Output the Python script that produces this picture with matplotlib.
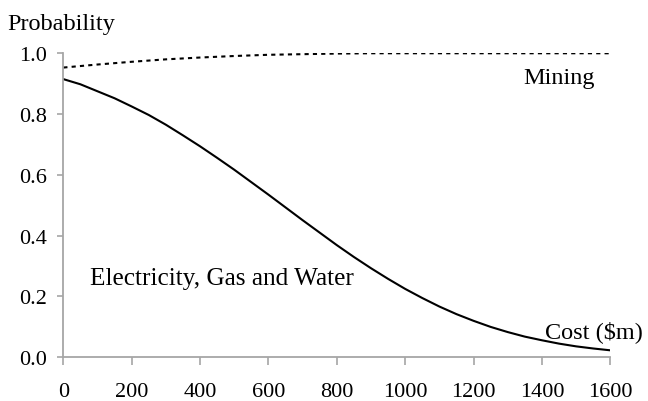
import matplotlib
matplotlib.use("Agg")
import matplotlib.pyplot as plt

# Cost grid ($m) and probability curves by industry
cost = [0, 50, 100, 150, 200, 250, 300, 350, 400, 450, 500, 550, 600, 650,
        700, 750, 800, 850, 900, 950, 1000, 1050, 1100, 1150, 1200, 1250,
        1300, 1350, 1400, 1450, 1500, 1550, 1600]
electricity = [0.915, 0.898, 0.875, 0.852, 0.825, 0.797, 0.765, 0.730, 0.694,
               0.656, 0.617, 0.576, 0.535, 0.493, 0.451, 0.410, 0.369, 0.330,
               0.293, 0.258, 0.225, 0.195, 0.167, 0.142, 0.120, 0.100, 0.083,
               0.068, 0.056, 0.045, 0.036, 0.029, 0.023]
mining_cost = [0, 100, 200, 300, 400, 500, 600, 700, 800, 900, 1000, 1100,
               1200, 1300, 1400, 1500, 1600]
mining = [0.953, 0.963, 0.972, 0.980, 0.986, 0.991, 0.995, 0.997, 0.999,
          1.0, 1.0, 1.0, 1.0, 1.0, 1.0, 1.0, 1.0]

xticks = [0, 200, 400, 600, 800, 1000, 1200, 1400, 1600]
yticks = [0.0, 0.2, 0.4, 0.6, 0.8, 1.0]

plt.rcParams["font.family"] = ["Liberation Serif", "DejaVu Serif"]
plt.rcParams["font.size"] = 16
label_size = 17.5

fig = plt.figure(figsize=(6.48, 4.02), dpi=100)
ax = fig.add_axes([0.0977, 0.1087, 0.8441, 0.7563])

ax.plot(cost, electricity, color="black", lw=1.5)
ax.plot(mining_cost, mining, color="black", lw=1.5, linestyle=(0, (2.0, 2.0)))

ax.set_xlim(0, 1600)
ax.set_ylim(0, 1.0)
ax.set_xticks(xticks)
ax.set_xticklabels([str(t) for t in xticks])
ax.set_yticks(yticks)
ax.set_yticklabels([f"{t:.1f}" for t in yticks])

for side in ("top", "right"):
    ax.spines[side].set_visible(False)
for side in ("left", "bottom"):
    ax.spines[side].set_color("#a6a6a6")
    ax.spines[side].set_linewidth(1.3)
ax.tick_params(axis="both", colors="#a6a6a6", labelcolor="black", width=1.2)
ax.tick_params(axis="y", length=4, pad=8)
ax.tick_params(axis="x", length=6, pad=12)

fig.text(0.012, 0.940, "Probability", ha="left", va="center", fontsize=label_size)
ax.text(1345, 0.92, "Mining", ha="left", va="center", fontsize=label_size)
ax.text(78, 0.26, "Electricity, Gas and Water", ha="left", va="center",
        fontsize=18.2)
ax.text(1410, 0.087, "Cost ($m)", ha="left", va="center", fontsize=label_size)

fig.savefig("out.png", dpi=100)
